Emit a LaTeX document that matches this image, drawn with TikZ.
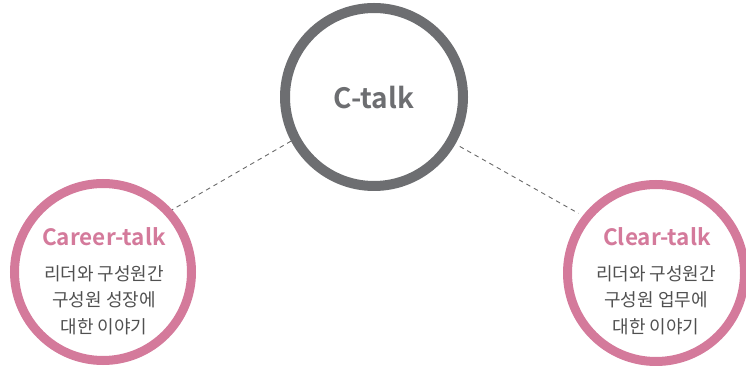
\documentclass[tikz,border=0pt]{standalone}
\usepackage{fontspec}
\setmainfont{Noto Sans CJK KR}
\newfontfamily\krbold{Noto Sans CJK KR Bold}
\definecolor{ringgray}{HTML}{6D6E71}
\definecolor{ringpink}{HTML}{D47A9B}
\definecolor{bodygray}{HTML}{505050}
\definecolor{dashgray}{HTML}{6A6A6A}
\tikzset{
  hub/.style={circle, draw=ringgray, line width=10pt, minimum size=178pt, inner sep=0pt},
  leaf/.style={circle, draw=ringpink, line width=9pt, minimum size=177pt, inner sep=0pt},
  hubtext/.style={font=\krbold\fontsize{28}{34}\selectfont, text=ringgray},
  leaftitle/.style={font=\krbold\fontsize{22.5}{26}\selectfont, text=ringpink},
  leafbody/.style={font=\fontsize{18}{26.5}\selectfont, text=bodygray, align=center},
  link/.style={draw=dashgray, line width=0.9pt, dash pattern=on 4.5pt off 4pt}
}
\begin{document}
\begin{tikzpicture}[x=1pt, y=1pt]
  \useasboundingbox (0,0) rectangle (746,366);
  % three rings
  \node[hub]  (ctalk)  at (374,269) {};
  \node[leaf] (career) at (103,94)  {};
  \node[leaf] (clear)  at (656,93)  {};
  % labels
  \node[hubtext] (ctalklbl) at (374,268) {C-talk};
  \node[leaftitle] (careerlbl) at (104,129) {Career-talk};
  \node[leaftitle] (clearlbl)  at (657,129) {Clear-talk};
  \node[leafbody] (careerbody) at (104,66) {리더와 구성원간\\구성원 성장에\\대한 이야기};
  \node[leafbody] (clearbody)  at (656,66) {리더와 구성원간\\구성원 업무에\\대한 이야기};
  % dashed connectors
  \draw[link] (ctalk.208.7) -- (career.42.4);
  \draw[link, shorten <=5pt, shorten >=5pt] (ctalk.-30.7) -- (clear.142.8);
\end{tikzpicture}
\end{document}
